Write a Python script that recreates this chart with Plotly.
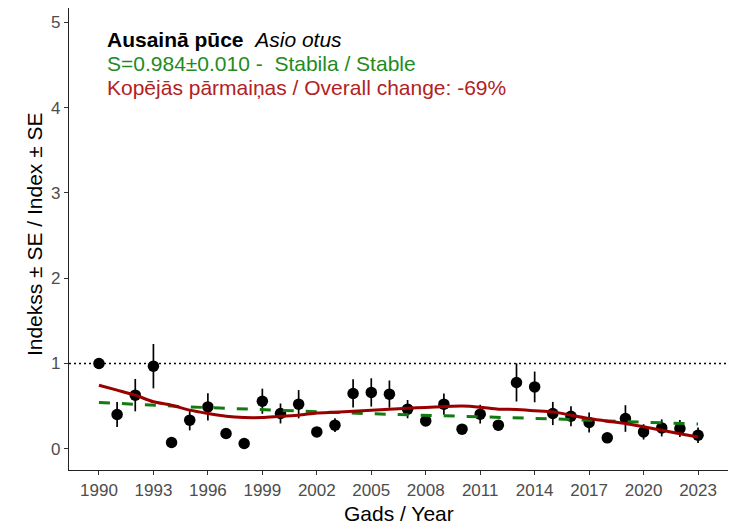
import plotly.graph_objects as go

# ---- data ----
years = list(range(1990, 2024))
index_vals = [1.00, 0.401, 0.628, 0.968, 0.073, 0.335, 0.490, 0.178, 0.061, 0.557,
              0.413, 0.522, 0.197, 0.276, 0.648, 0.660, 0.640, 0.464, 0.326, 0.522,
              0.229, 0.405, 0.276, 0.777, 0.725, 0.413, 0.381, 0.307, 0.127, 0.354,
              0.197, 0.244, 0.237, 0.158]
se_vals = [0.0, 0.147, 0.19, 0.26, 0.03, 0.12, 0.16, 0.04, 0.02, 0.147,
           0.117, 0.166, 0.04, 0.08, 0.166, 0.166, 0.16, 0.107, 0.05, 0.125,
           0.05, 0.11, 0.06, 0.224, 0.18, 0.136, 0.117, 0.117, 0.03, 0.156,
           0.09, 0.10, 0.10, 0.09]
smooth_vals = [0.745, 0.687, 0.628, 0.550, 0.510, 0.452, 0.413, 0.381, 0.366, 0.366,
               0.381, 0.393, 0.420, 0.428, 0.440, 0.452, 0.464, 0.475, 0.484, 0.493,
               0.500, 0.487, 0.464, 0.460, 0.446, 0.432, 0.393, 0.354, 0.323, 0.296,
               0.258, 0.217, 0.176, 0.138]
trend_years = [1990, 1995, 2000, 2005, 2010, 2015, 2020, 2023]
trend_vals = [0.542, 0.490, 0.450, 0.410, 0.380, 0.350, 0.310, 0.290]
x_ticks = list(range(1990, 2024, 3))
y_ticks = [0, 1, 2, 3, 4, 5]
reference_level = 1

title_species = "<b>Ausainā pūce</b>\u00a0\u00a0<i>Asio otus</i>"
title_trend = "S=0.984±0.010 -\u00a0\u00a0Stabila / Stable"
title_change = "Kopējās pārmaiņas / Overall change: -69%"
x_title = "Gads / Year"
y_title = "Indekss ± SE / Index ± SE"

FONT = "Liberation Sans, Arial, sans-serif"

fig = go.Figure()

# reference dotted line at index 1
fig.add_shape(type="line", xref="paper", x0=0, x1=1, yref="y",
              y0=reference_level, y1=reference_level,
              line=dict(color="black", width=1.5, dash="2px,3px"), layer="below")

# points with SE error bars
fig.add_trace(go.Scatter(
    x=years, y=index_vals, mode="markers",
    marker=dict(color="black", size=11.5, line=dict(width=0)),
    error_y=dict(type="data", array=se_vals, visible=True,
                 color="black", thickness=1.7, width=0),
    showlegend=False, hoverinfo="x+y"))

# exponential trend (dashed green)
fig.add_trace(go.Scatter(
    x=trend_years, y=trend_vals, mode="lines",
    line=dict(color="#117A11", width=3, dash="11px,12px"),
    showlegend=False))

# smoothed curve (dark red)
fig.add_trace(go.Scatter(
    x=years, y=smooth_vals, mode="lines",
    line=dict(color="#9B0000", width=3, shape="spline", smoothing=0.6),
    showlegend=False))

# text block
x0 = 0.054
fig.add_annotation(xref="paper", yref="paper", x=x0, y=0.931, xanchor="left",
                   yanchor="middle", showarrow=False, text=title_species,
                   font=dict(family=FONT, size=21, color="black"))
fig.add_annotation(xref="paper", yref="paper", x=x0, y=0.880, xanchor="left",
                   yanchor="middle", showarrow=False, text=title_trend,
                   font=dict(family=FONT, size=21, color="#228B22"))
fig.add_annotation(xref="paper", yref="paper", x=x0, y=0.829, xanchor="left",
                   yanchor="middle", showarrow=False, text=title_change,
                   font=dict(family=FONT, size=21, color="#B22222"))

# axis titles
fig.add_annotation(xref="paper", yref="paper", x=0.5, y=-0.095, xanchor="center",
                   yanchor="middle", showarrow=False, text=x_title,
                   font=dict(family=FONT, size=21, color="black"))
fig.add_annotation(xref="paper", yref="paper", x=-0.052, y=0.51, xanchor="center",
                   yanchor="middle", showarrow=False, text=y_title, textangle=-90,
                   font=dict(family=FONT, size=21, color="black"))

# the page body adds an 8px offset, so the figure is sized 728x520
fig.update_layout(
    width=728, height=520,
    margin=dict(l=61, r=8, t=0, b=58, autoexpand=False),
    paper_bgcolor="white", plot_bgcolor="white",
    font=dict(family=FONT),
    xaxis=dict(
        range=[1988.35, 2024.65], tickmode="array", tickvals=x_ticks,
        ticktext=[str(t) for t in x_ticks], automargin=False,
        showgrid=False, zeroline=False,
        showline=True, linecolor="#222222", linewidth=1.2,
        ticks="outside", ticklen=4, tickcolor="#333333", tickwidth=1,
        tickfont=dict(family=FONT, size=17, color="#4D4D4D"),
    ),
    yaxis=dict(
        range=[-0.25, 5.17], tickmode="array", tickvals=y_ticks,
        ticktext=[str(t) for t in y_ticks], automargin=False,
        showgrid=False, zeroline=False,
        showline=True, linecolor="#222222", linewidth=1.2,
        ticks="outside", ticklen=4, tickcolor="#333333", tickwidth=1,
        tickfont=dict(family=FONT, size=17, color="#4D4D4D"),
    ),
)

fig.write_html("out.html")
